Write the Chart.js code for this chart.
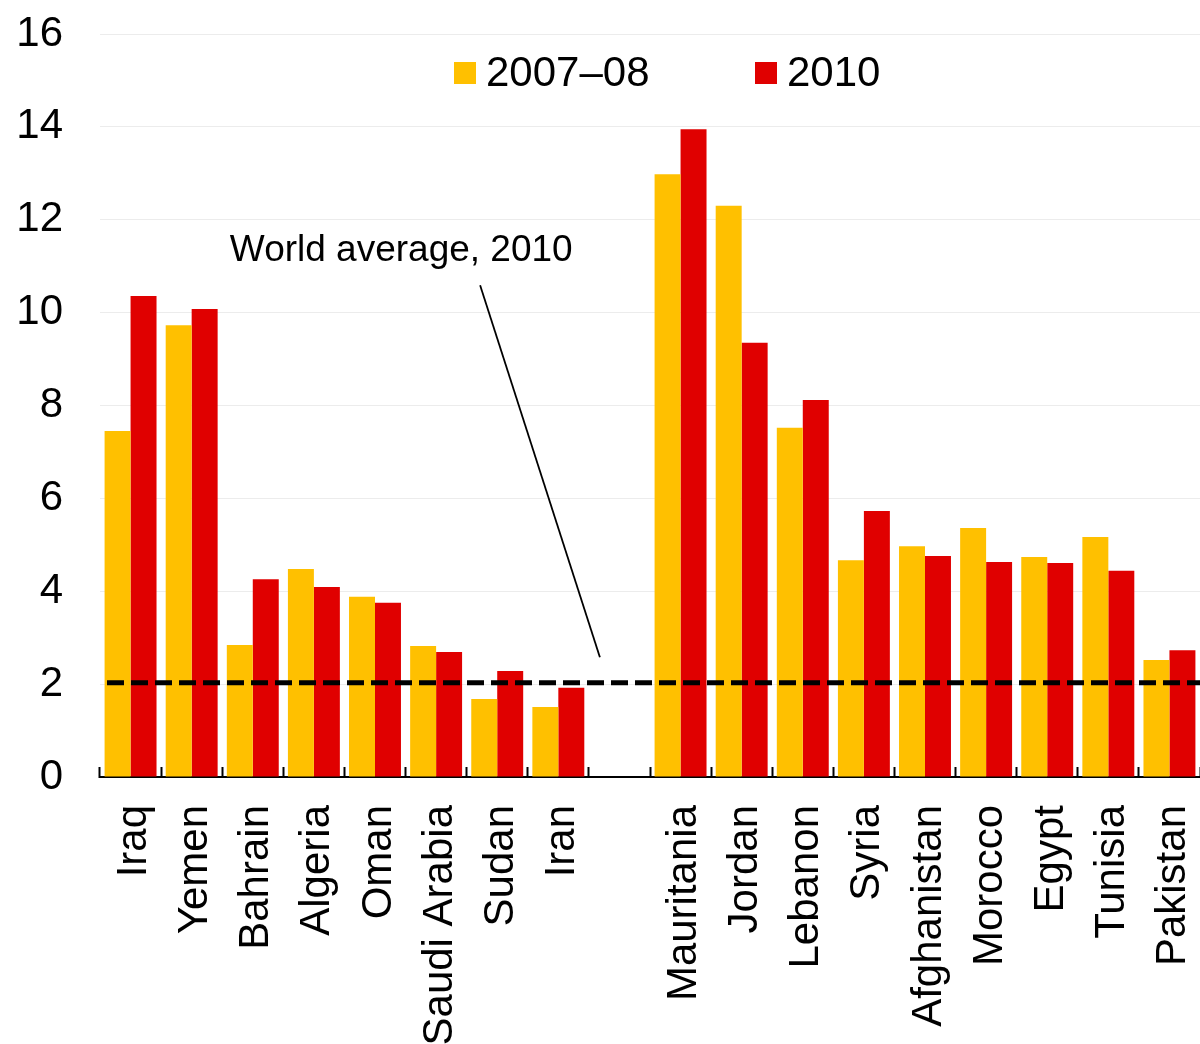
<!DOCTYPE html>
<html>
<head>
<meta charset="utf-8">
<script src="https://cdn.jsdelivr.net/npm/chart.js@4"></script>
<style>
  html, body { margin: 0; padding: 0; background: #fff; }
  #wrap { width: 1200px; height: 1044px; }
</style>
</head>
<body>
<div id="wrap"><canvas id="chart"></canvas></div>
<script>
const categories = ["Iraq", "Yemen", "Bahrain", "Algeria", "Oman", "Saudi Arabia", "Sudan", "Iran", "",
  "Mauritania", "Jordan", "Lebanon", "Syria", "Afghanistan", "Morocco", "Egypt", "Tunisia", "Pakistan"];
const values0708 = [7.45, 9.73, 2.84, 4.48, 3.88, 2.82, 1.68, 1.51, null,
  12.98, 12.30, 7.52, 4.67, 4.97, 5.36, 4.74, 5.17, 2.52];
const values2010 = [10.36, 10.08, 4.26, 4.09, 3.75, 2.69, 2.28, 1.92, null,
  13.95, 9.35, 8.12, 5.73, 4.76, 4.63, 4.61, 4.44, 2.73];
const seriesNames = ["2007\u201308", "2010"];
const worldAverage = 2.03;
const noteText = "World average, 2010";
// note anchor (category index, value) and leader line ends
const notePos = [4.43, 11.33];
const leaderFrom = [5.72, 10.59];
const leaderTo = [7.68, 2.58];

const FONT = "'Liberation Sans', Arial, sans-serif";
const YELLOW = "#FFC000";
const RED = "#E00000";

const overlay = {
  id: "overlay",
  afterDatasetsDraw(chart) {
    const ctx = chart.ctx;
    const x = chart.scales.x, y = chart.scales.y;
    const area = chart.chartArea;
    ctx.save();

    // world average dashed line
    const yAvg = y.getPixelForValue(worldAverage);
    ctx.strokeStyle = "#000";
    ctx.lineWidth = 5;
    ctx.setLineDash([17, 7]);
    ctx.beginPath();
    ctx.moveTo(area.left + 7, yAvg);
    ctx.lineTo(area.right, yAvg);
    ctx.stroke();
    ctx.setLineDash([]);

    // leader line
    ctx.lineWidth = 1.8;
    ctx.beginPath();
    ctx.moveTo(x.getPixelForValue(leaderFrom[0]), y.getPixelForValue(leaderFrom[1]));
    ctx.lineTo(x.getPixelForValue(leaderTo[0]), y.getPixelForValue(leaderTo[1]));
    ctx.stroke();

    // note text
    ctx.fillStyle = "#000";
    ctx.font = "37px " + FONT;
    ctx.textAlign = "center";
    ctx.textBaseline = "middle";
    ctx.fillText(noteText, x.getPixelForValue(notePos[0]), y.getPixelForValue(notePos[1]));

    // legend inside plot
    const colors = [YELLOW, RED];
    const starts = [area.left + 354, area.left + 655];
    ctx.font = "42px " + FONT;
    ctx.textAlign = "left";
    const ly = area.top + 39;
    seriesNames.forEach((name, i) => {
      ctx.fillStyle = colors[i];
      ctx.fillRect(starts[i], ly - 11, 22, 22);
      ctx.fillStyle = "#000";
      ctx.fillText(name, starts[i] + 32, ly + 1);
    });
    ctx.restore();
  }
};

new Chart(document.getElementById("chart"), {
  type: "bar",
  data: {
    labels: categories,
    datasets: [
      { label: seriesNames[0], data: values0708, backgroundColor: YELLOW,
        categoryPercentage: 0.85, barPercentage: 1.0 },
      { label: seriesNames[1], data: values2010, backgroundColor: RED,
        categoryPercentage: 0.85, barPercentage: 1.0 }
    ]
  },
  options: {
    responsive: true,
    maintainAspectRatio: false,
    animation: false,
    layout: { padding: { top: 34, right: 0, bottom: 0, left: 0 } },
    plugins: {
      legend: { display: false },
      tooltip: { enabled: false }
    },
    scales: {
      x: {
        grid: { offset: true, drawOnChartArea: false, drawTicks: true, tickLength: -10, tickColor: "#000", tickWidth: 2 },
        border: { display: true, color: "#000", width: 2 },
        ticks: {
          color: "#000", font: { family: FONT, size: 42 },
          maxRotation: 90, minRotation: 90, padding: 38, autoSkip: false, labelOffset: 4
        },
        afterFit(scale) {
          scale.height = 267;
          scale.paddingLeft = 0;
          scale.paddingRight = 0;
        }
      },
      y: {
        min: 0, max: 16,
        grid: { color: "#ececec", lineWidth: 1, drawTicks: false },
        border: { display: false },
        ticks: {
          stepSize: 2, color: "#000", padding: 37,
          font: { family: FONT, size: 42 }
        },
        afterFit(scale) {
          scale.width = 100;
          scale.paddingTop = 0;
          scale.paddingBottom = 0;
        }
      }
    }
  },
  plugins: [overlay]
});
</script>
</body>
</html>
